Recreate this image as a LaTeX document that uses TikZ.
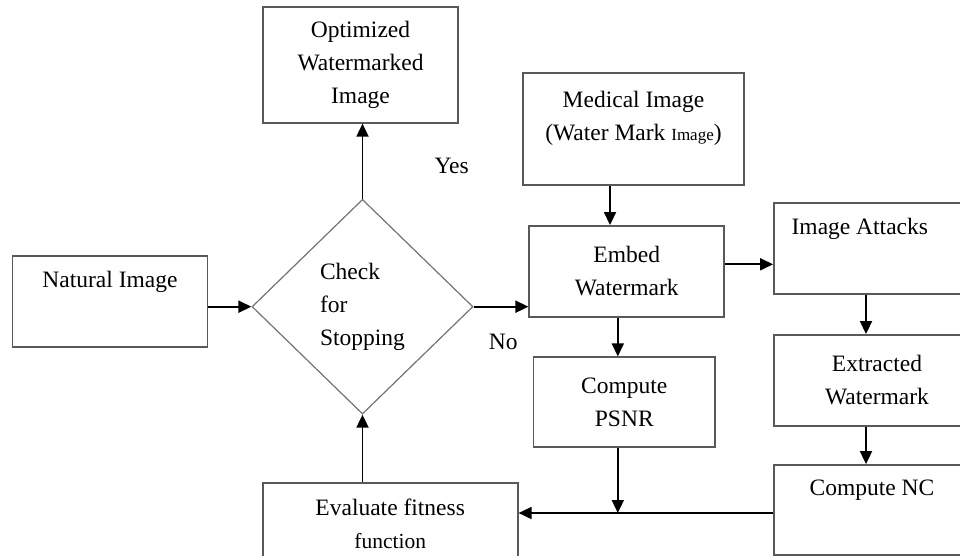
\documentclass[tikz,border=0pt]{standalone}
\usepackage{fontspec}
\setmainfont{Liberation Serif}
\usetikzlibrary{shapes.geometric,arrows.meta}

\tikzset{
  txt/.style={font=\fontsize{23.5}{33}\selectfont, align=center},
  box/.style={draw=black!65, line width=1.8pt, rectangle, txt},
  decide/.style={draw=black!55, line width=1.2pt, diamond, inner sep=2pt, txt, align=left},
  arr/.style={-{Triangle[length=13pt,width=12pt]}, line width=1.8pt}
}

\begin{document}
\begin{tikzpicture}[x=1pt,y=-1pt]
\useasboundingbox (0,0) rectangle (960,556);
\clip (0,0) rectangle (960,556);

\node[box, minimum width=195pt, minimum height=91pt,
      label={[txt,anchor=north,yshift=-12pt]north:Natural Image}] (nat) at (110,301.7) {};
\node[decide, minimum width=221pt, minimum height=214.7pt] (chk) at (362.5,306.7)
      {Check\\for\\Stopping};
\node[box, minimum width=195.6pt, minimum height=115.4pt] (opt) at (360.5,65)
      {Optimized\\Watermarked\\Image};
\node[box, minimum width=221.6pt, minimum height=111.7pt,
      label={[txt,anchor=north,yshift=-15.5pt]north:Medical Image\\(Water Mark {\fontsize{17}{30}\selectfont Image})}]
      (med) at (633.5,129.2) {};
\node[box, minimum width=194.7pt, minimum height=90.7pt] (emb) at (626.7,271.3)
      {Embed\\Watermark};
\node[box, minimum width=181.5pt, minimum height=90pt] (psnr) at (624.3,402.3)
      {Compute\\PSNR};
\node[box, minimum width=206pt, minimum height=90.7pt,
      label={[txt,anchor=north west,xshift=15pt,yshift=-12pt]north west:Image Attacks}] (ia) at (877,248.7) {};
\node[box, minimum width=206pt, minimum height=90.7pt] (ext) at (877,380.3)
      {Extracted\\Watermark};
\node[box, minimum width=206pt, minimum height=90pt,
      label={[txt,anchor=north,yshift=-12pt,xshift=-5pt]north:Compute NC}] (nc) at (877,510) {};
\node[box, minimum width=255pt, minimum height=116.7pt,
      label={[txt,anchor=north,yshift=-12.5pt]north:Evaluate fitness\\{\fontsize{21.5}{30}\selectfont function}}]
      (fit) at (390.2,541.7) {};

\node[txt, anchor=base] (yes) at (451.7,174) {Yes};
\node[txt, anchor=base] (no) at (503.3,349) {No};

\draw[arr] (chk.west -| nat.east) -- (chk.west);
\draw[arr] (chk.north) -- (chk.north |- opt.south);
\draw[arr] (chk.east) -- (chk.east -| emb.west);
\draw[arr] ([xshift=-23.5pt]med.south) -- ([xshift=-23.5pt]med.south |- emb.north);
\draw[arr] ([yshift=7pt]emb.east) -- ([yshift=7pt]emb.east -| ia.west);
\draw[arr] ([xshift=-11pt]ia.south) -- ([xshift=-11pt]ia.south |- ext.north);
\draw[arr] ([xshift=-11pt]ext.south) -- ([xshift=-11pt]ext.south |- nc.north);
\draw[arr] ([xshift=-6.5pt]psnr.north |- emb.south) -- ([xshift=-6.5pt]psnr.north);
\draw[arr] ([xshift=-6.5pt]psnr.south) -- ([xshift=-6.5pt,yshift=-3pt]psnr.south |- nc.west);
\draw[arr] ([yshift=-3pt]nc.west) -- ([yshift=-3pt]nc.west -| fit.east);
\draw[arr] (chk.south |- fit.north) -- (chk.south);
\end{tikzpicture}
\end{document}
